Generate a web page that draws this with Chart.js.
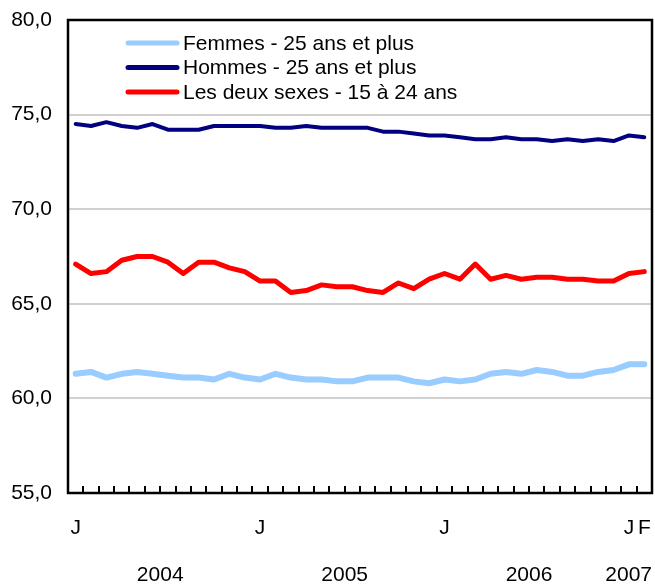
<!DOCTYPE html>
<html>
<head>
<meta charset="utf-8">
<script src="https://cdn.jsdelivr.net/npm/chart.js@4/dist/chart.umd.min.js"></script>
<style>
  html, body { margin: 0; padding: 0; background: #fff; }
  #wrap { width: 655px; height: 584px; }
</style>
</head>
<body>
<div id="wrap"><canvas id="chart" width="655" height="584"></canvas></div>
<script>
// monthly, January 2004 to February 2007
const months = ['J','F','M','A','M','J','J','A','S','O','N','D',
                'J','F','M','A','M','J','J','A','S','O','N','D',
                'J','F','M','A','M','J','J','A','S','O','N','D',
                'J','F'];
const years = ['2004', '2005', '2006', '2007'];
const yearStart = [0, 12, 24, 36];
const yearEnd = [11, 23, 35, 37];

const femmes = [61.3, 61.4, 61.1, 61.3, 61.4, 61.3, 61.2, 61.1, 61.1, 61.0,
                61.3, 61.1, 61.0, 61.3, 61.1, 61.0, 61.0, 60.9, 60.9, 61.1,
                61.1, 61.1, 60.9, 60.8, 61.0, 60.9, 61.0, 61.3, 61.4, 61.3,
                61.5, 61.4, 61.2, 61.2, 61.4, 61.5, 61.8, 61.8];
const hommes = [74.5, 74.4, 74.6, 74.4, 74.3, 74.5, 74.2, 74.2, 74.2, 74.4,
                74.4, 74.4, 74.4, 74.3, 74.3, 74.4, 74.3, 74.3, 74.3, 74.3,
                74.1, 74.1, 74.0, 73.9, 73.9, 73.8, 73.7, 73.7, 73.8, 73.7,
                73.7, 73.6, 73.7, 73.6, 73.7, 73.6, 73.9, 73.8];
const jeunes = [67.1, 66.6, 66.7, 67.3, 67.5, 67.5, 67.2, 66.6, 67.2, 67.2,
                66.9, 66.7, 66.2, 66.2, 65.6, 65.7, 66.0, 65.9, 65.9, 65.7,
                65.6, 66.1, 65.8, 66.3, 66.6, 66.3, 67.1, 66.3, 66.5, 66.3,
                66.4, 66.4, 66.3, 66.3, 66.2, 66.2, 66.6, 66.7];
const yTicks = [55, 60, 65, 70, 75, 80];

const FONT = 'Liberation Sans, Arial, Helvetica, sans-serif';
const FSIZE = 21;

// black frame, inward tick marks, year row and the legend
const decor = {
  id: 'decor',
  afterDraw(chart) {
    const ctx = chart.ctx;
    const a = chart.chartArea;
    const x = chart.scales.x;
    ctx.save();

    ctx.strokeStyle = '#000';
    ctx.lineWidth = 2.5;
    ctx.strokeRect(a.left, a.top, a.right - a.left, a.bottom - a.top);

    ctx.lineWidth = 2;
    for (let i = 0; i <= months.length; i++) {
      const px = Math.round(x.getPixelForValue(i - 0.5));
      ctx.beginPath();
      ctx.moveTo(px, a.bottom);
      ctx.lineTo(px, a.bottom - 7);
      ctx.stroke();
    }

    ctx.fillStyle = '#000';
    ctx.font = FSIZE + 'px ' + FONT;
    ctx.textAlign = 'center';
    ctx.textBaseline = 'middle';
    years.forEach((yr, i) => {
      let cx = x.getPixelForValue((yearStart[i] + yearEnd[i]) / 2);
      const w = ctx.measureText(yr).width;
      cx = Math.min(cx, a.right - w / 2);
      ctx.fillText(yr, cx, 575);
    });

    ctx.textAlign = 'left';
    chart.data.datasets.forEach((ds, i) => {
      const ly = 43 + i * 24.5;
      ctx.strokeStyle = ds.borderColor;
      ctx.lineWidth = 5;
      ctx.lineCap = 'round';
      ctx.beginPath();
      ctx.moveTo(128, ly);
      ctx.lineTo(177, ly);
      ctx.stroke();
      ctx.fillText(ds.label, 183, ly + 1);
    });
    ctx.restore();
  }
};

new Chart(document.getElementById('chart'), {
  type: 'line',
  data: {
    labels: months,
    datasets: [
      { label: 'Femmes - 25 ans et plus', data: femmes, borderColor: '#99ccff', borderWidth: 6 },
      { label: 'Hommes - 25 ans et plus', data: hommes, borderColor: '#000080', borderWidth: 4 },
      { label: 'Les deux sexes - 15 à 24 ans', data: jeunes, borderColor: '#ff0000', borderWidth: 5 }
    ]
  },
  options: {
    responsive: false,
    animation: false,
    layout: { padding: { top: 20, right: 3, left: 0, bottom: 0 } },
    elements: {
      point: { radius: 0 },
      line: { tension: 0, borderJoinStyle: 'round', borderCapStyle: 'round' }
    },
    plugins: { legend: { display: false }, tooltip: { enabled: false } },
    scales: {
      x: {
        offset: true,
        grid: { display: false, drawTicks: false },
        border: { display: false },
        afterFit: s => { s.height = 91; s.paddingLeft = 0; s.paddingRight = 0; },
        ticks: {
          autoSkip: false,
          maxRotation: 0,
          padding: 23,
          color: '#000',
          font: { family: FONT, size: FSIZE },
          callback: (v, i) => (i % 12 === 0 || i === months.length - 1) ? months[i] : ''
        }
      },
      y: {
        min: 55,
        max: 80,
        afterBuildTicks: s => { s.ticks = yTicks.map(v => ({ value: v })); },
        afterFit: s => { s.width = 68; s.paddingTop = 0; s.paddingBottom = 0; },
        grid: {
          color: c => (c.tick.value === 55 || c.tick.value === 80) ? 'rgba(0,0,0,0)' : '#d0d0d0',
          lineWidth: 2,
          drawTicks: false
        },
        border: { display: false },
        ticks: {
          padding: 16,
          color: '#000',
          font: { family: FONT, size: FSIZE },
          callback: v => v.toFixed(1).replace('.', ',')
        }
      }
    }
  },
  plugins: [decor]
});
</script>
</body>
</html>
